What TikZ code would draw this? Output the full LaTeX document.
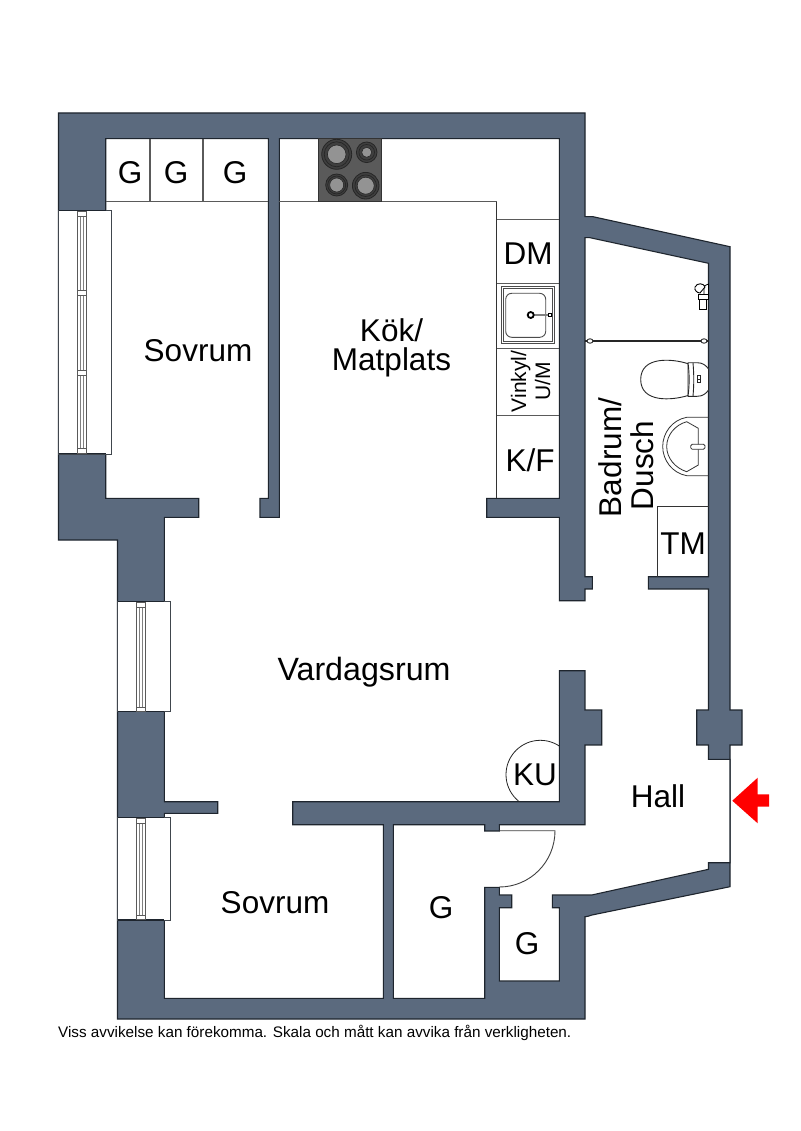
\documentclass[tikz,border=0pt]{standalone}
\usepackage{fontspec}
\setmainfont{Liberation Sans}
\definecolor{wall}{HTML}{5B6A7E}
\definecolor{edge}{HTML}{1E252E}
\definecolor{fixture}{HTML}{5A5A5A}
\tikzset{
  wallshape/.style={fill=wall,draw=edge,line width=1.1pt,line join=miter},
  roomshape/.style={fill=white,draw=edge,line width=1.1pt,line join=miter},
  counter/.style={draw=fixture,line width=1.1pt},
  thinline/.style={draw=black!80,line width=.9pt},
  winframe/.style={fill=white,draw=edge!85,line width=1pt},
  winbar/.style={fill=white,draw=fixture,line width=.9pt},
  label/.style={font=\fontsize{31.5}{32}\selectfont,text=black,inner sep=0pt,align=center},
  smalllabel/.style={font=\fontsize{21}{24}\selectfont,text=black,inner sep=0pt,align=center},
  burner/.style={fill=fixture!70!black,draw=black!85,line width=.8pt},
  burnerring/.style={draw=black!85,line width=.7pt},
  burnercore/.style={fill=gray!85,draw=black!85,line width=.6pt},
}
\begin{document}
\begin{tikzpicture}[x=1pt,y=-1pt]
\useasboundingbox (0,0) rectangle (800,1131);
\fill[white] (0,0) rectangle (800,1131);

% walls
\draw[wallshape] (58.5,113) -- (585,113) -- (585,216.7) -- (593,216.7) -- (730,246.7) -- (730,710) -- (742,710) -- (742,745) -- (730,745) -- (730,886.7) -- (592,915) .. controls (589,916) and (587,916.7) .. (585,916.7) -- (585,1019) -- (117.5,1019) -- (117.5,540) -- (58.5,540) -- cycle;

% free floor space
\draw[roomshape] (105.7,138.7) -- (268.3,138.7) -- (268.3,498.3) -- (260,498.3) -- (260,517.3) -- (279.3,517.3) -- (279.3,138.7) -- (559.3,138.7) -- (559.3,498.3) -- (486.7,498.3) -- (486.7,517.3) -- (559.3,517.3) -- (559.3,600.7) -- (585,600.7) -- (585,589) -- (592.3,589) -- (592.3,576.7) -- (585,576.7) -- (585,237.7) -- (590,237.7) -- (708.5,263.3) -- (708.5,576.7) -- (648.3,576.7) -- (648.3,589) -- (708.5,589) -- (708.5,710) -- (696.7,710) -- (696.7,745) -- (708.5,745) -- (708.5,759.3) -- (730,759.3) -- (730,862.7) -- (708.5,862.7) -- (708.5,869.3) -- (591.7,895) -- (552.3,895) -- (552.3,907.7) -- (559.3,907.7) -- (559.3,981) -- (499.3,981) -- (499.3,907.7) -- (511.7,907.7) -- (511.7,895) -- (499.3,895) -- (499.3,887.3) -- (484.7,887.3) -- (484.7,998.3) -- (393.3,998.3) -- (393.3,824.7) -- (484.7,824.7) -- (484.7,831) -- (499.3,831) -- (499.3,824.7) -- (585,824.7) -- (585,745) -- (601.7,745) -- (601.7,710) -- (585,710) -- (585,670.7) -- (559.3,670.7) -- (559.3,801.7) -- (292.7,801.7) -- (292.7,824.7) -- (383.3,824.7) -- (383.3,998.3) -- (164.3,998.3) -- (164.3,813.3) -- (217.7,813.3) -- (217.7,801.7) -- (164.3,801.7) -- (164.3,517.3) -- (198.7,517.3) -- (198.7,498.3) -- (105.7,498.3) -- cycle;

% windows
\draw[winframe] (58.5,210.7) rectangle (111,454.3);
\draw[winframe] (117.5,601.7) rectangle (170,711.7);
\draw[winframe] (117.5,817.7) rectangle (170,920);
\draw[edge,line width=1.1pt] (58.5,210.7) -- (105.7,210.7) (58.5,453.3) -- (105.7,453.3) (117.5,601.7) -- (164.3,601.7) (117.5,711.7) -- (164.3,711.7) (117.5,817.7) -- (164.3,817.7) (117.5,920) -- (164.3,920);
\foreach \xa/\xb/\yt/\yb in {77.3/86.7/211/453, 136.3/145.7/602/711.3, 136.3/145.7/818/919.5}{
  \draw[winbar] (\xa,\yt) rectangle (\xb,\yb);
  \draw[gray,line width=.9pt] ({\xa+3.3},\yt) -- ({\xa+3.3},\yb) ({\xb-3.3},\yt) -- ({\xb-3.3},\yb);
}
% window bars
\foreach \xa/\xb/\ya/\yb in {77.3/86.7/211/216, 77.3/86.7/290/295, 77.3/86.7/370/375, 77.3/86.7/448/453,
  136.3/145.7/602/607, 136.3/145.7/707/711.3, 136.3/145.7/818/823, 136.3/145.7/915/919.5}{
  \draw[winbar] (\xa,\ya) rectangle (\xb,\yb);
}

% counters
\draw[counter] (105.7,201.7) -- (268.3,201.7) (279.3,201.7) -- (318.3,201.7);
\draw[counter] (381.7,201.7) -- (496.7,201.7);
\draw[counter] (150,138.7) -- (150,201.7) (203,138.7) -- (203,201.7);
\draw[thinline] (496.7,201.7) -- (496.7,498.3);
\draw[counter] (496.7,219.3) -- (559.3,219.3) (496.7,283.3) -- (559.3,283.3) (496.7,348.7) -- (559.3,348.7) (496.7,415.3) -- (559.3,415.3);

% hob
\draw[fill=fixture,draw=black!80,line width=.8pt] (318.3,138.7) rectangle (381.7,201.7);
\foreach \cx/\cy/\ro/\rm/\ri in {336.7/154.3/15/12.5/9.3, 366.7/152.3/10.3/7.8/5, 336.7/185/11/9/7, 365.7/185.7/13.3/10.8/8.5}{
  \draw[burner] (\cx,\cy) circle[radius=\ro];
  \draw[burnerring] (\cx,\cy) circle[radius=\rm];
  \draw[burnercore] (\cx,\cy) circle[radius=\ri];
}

% kitchen sink
\draw[fill=white,draw=black!70,line width=1pt] (501,286.7) rectangle (554,343.3);
\draw[draw=black!70,line width=.9pt] (503,288.7) rectangle (552,341.3);
\draw[draw=black!70,line width=.9pt,rounded corners=6pt] (505.7,293.3) rectangle (545.7,337.3);
\draw[gray,line width=1.8pt] (531,315) -- (549,315);
\draw[black,line width=1pt,fill=white] (548,313.5) rectangle (551,316.5);
\draw[black,line width=1.8pt,fill=white] (530.7,315) circle[radius=3];

% shower
\draw[black!85,line width=1.2pt] (585,341) -- (708.5,341);
\draw[black!85,line width=.9pt,fill=white] (590,341) ellipse[x radius=3,y radius=2.2];
\draw[black!85,line width=.9pt,fill=white] (704,341) ellipse[x radius=3,y radius=2.2];
% shower head
\draw[black,line width=.8pt,fill=white] (704,286) -- (708.5,284) -- (708.5,297) -- (704,297) -- cycle;
\draw[black,line width=.9pt,fill=white] (695,287) .. controls (697,282.5) and (704,283) .. (705,287) .. controls (703,290) and (701,291) .. (700,293) .. controls (697,293) and (694,290) .. (695,287) -- cycle;
\draw[black,line width=.9pt,fill=white] (698,294) rectangle (708,299);
\draw[black,line width=.9pt,fill=white] (699.5,299) rectangle (706.5,309);
\draw[black,line width=1.6pt] (706.5,299) -- (706.5,309);

% toilet
\draw[black!85,line width=.9pt,fill=white] (688,363.7) .. controls (672,358.5) and (640.7,356) .. (640.7,379.5) .. controls (640.7,403) and (672,400.5) .. (688,395.5) -- cycle;
\draw[black!85,line width=.9pt,fill=white] (688,362.7) -- (697,362.7) .. controls (703,362.7) and (706,365.5) .. (708.5,369) -- (708.5,390) .. controls (706,393.5) and (703,396.3) .. (697,396.3) -- (688,396.3) .. controls (689.5,385) and (689.5,374) .. (688,362.7) -- cycle;
\draw[black!85,line width=.9pt] (693,362.9) .. controls (694,374) and (694,385) .. (693,396.1);
\draw[black!85,line width=.7pt,fill=white] (697.3,375.5) rectangle (700.7,382.5);
\draw[black!85,line width=.6pt] (697.3,379) -- (700.7,379);

% bathroom basin
\draw[black!80,line width=.8pt] (708.5,417.3) -- (686.7,417.3) .. controls (672,420) and (662.7,433) .. (662.7,446.5) .. controls (662.7,460) and (672,473) .. (686.7,475.7) -- (708.5,475.7);
\draw[black!80,line width=.8pt] (686.7,421.7) -- (698.3,428.3) -- (698.3,465) -- (686.7,471.7) .. controls (675,468) and (666.7,458) .. (666.7,446.5) .. controls (666.7,435) and (675,425) .. (686.7,421.7) -- cycle;
\draw[black!80,line width=.8pt,fill=white,rounded corners=1.5pt] (690.7,444.3) rectangle (705,449.3);

% TM
\draw[thinline] (657.7,576.7) -- (657.7,506.7) -- (708.5,506.7);

% door leaf
\draw[black!75,line width=.9pt] (499.3,830.7) -- (555,830.7) .. controls (555,862) and (530,887) .. (499.3,887);

% KU circle
\begin{scope}
\clip (480,720) rectangle (559.3,801.7);
\draw[black!85,line width=.8pt] (540.3,774.6) circle[radius=34.3];
\end{scope}

% arrow
\fill[red] (732.3,800.7) -- (757.7,777.7) -- (757.7,794.3) -- (769,794.3) -- (769,806.7) -- (757.7,806.7) -- (757.7,823.3) -- cycle;

% labels
\node[label] (g1) at (130,172.5) {G};
\node[label] (g2) at (176,172.5) {G};
\node[label] (g3) at (235,172.5) {G};
\node[label] (bed1) at (198,351) {Sovrum};
\node[label] (kok) at (391.5,348) {Kök/\\[-2.5pt]Matplats};
\node[label] (dm) at (528,254) {DM};
\node[smalllabel,rotate=90] (vin) at (530.5,381.5) {Vinkyl/\\U/M};
\node[label] (kf) at (530,460) {K/F};
\node[label,rotate=90] (bad) at (626.5,457.5) {Badrum/\\Dusch\hspace*{16pt}};
\node[label] (tm) at (683,544) {TM};
\node[label,font=\fontsize{32.2}{33}\selectfont] (liv) at (364,672) {Vardagsrum};
\node[label] (ku) at (535,775) {KU};
\node[label] (hall) at (658,796) {Hall};
\node[label] (bed2) at (275,903) {Sovrum};
\node[label] (g4) at (441,907.5) {G};
\node[label] (g5) at (527,944) {G};
\node[anchor=west,inner sep=0pt,font=\fontsize{15.25}{16}\selectfont] (note) at (58,1033) {Viss avvikelse kan förekomma. Skala och mått kan avvika från verkligheten.};
\end{tikzpicture}
\end{document}
